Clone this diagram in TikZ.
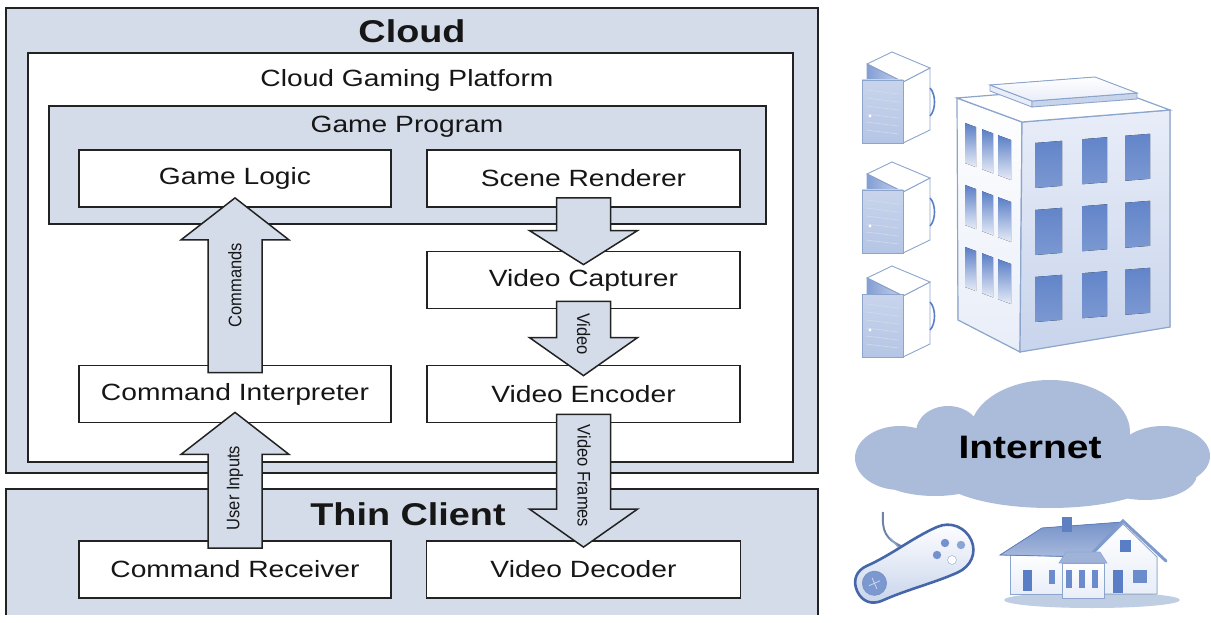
\documentclass[tikz,border=0pt]{standalone}
\usepackage{fontspec}
\usepackage{graphicx}
\setmainfont{Liberation Sans}[FakeStretch=1.2]
\newfontfamily\lblfont{Liberation Sans}
\usetikzlibrary{calc}

\definecolor{panelblue}{RGB}{212,220,234}
\definecolor{edge}{RGB}{34,34,34}
\definecolor{inkgrey}{RGB}{22,22,22}
\definecolor{cloudfill}{RGB}{170,188,218}
\definecolor{winblue}{RGB}{90,126,198}
\definecolor{iconline}{RGB}{140,165,205}
\definecolor{iconpale}{RGB}{232,237,248}
\definecolor{iconmid}{RGB}{200,212,236}
\definecolor{padline}{RGB}{70,102,170}
\definecolor{roofblue}{RGB}{95,128,192}

% block arrow between two points: tail, tip, signed offset of the head base from the tip
\newcommand\fatarrow[3]{%
  \filldraw[fatarrow] let \p1=#1, \p2=#2 in
    (\x1-27pt,\y1) -- (\x1-27pt,{\y2+(#3pt)}) -- (\x1-54pt,{\y2+(#3pt)}) -- (\x2,\y2)
    -- (\x1+54pt,{\y2+(#3pt)}) -- (\x1+27pt,{\y2+(#3pt)}) -- (\x1+27pt,\y1) -- cycle;}

% one server tower, placed by its top corner
\newcommand\serverunit[2]{%
  \begin{scope}[shift={(#1,#2)}]
    \filldraw[draw=iconline, line width=0.9pt, fill=white] (11,30) -- (38,16) -- (38,78) -- (11,91) -- cycle;
    \filldraw[draw=iconline, line width=0.9pt, fill=white] (0,0) -- (-25,12) -- (11,30) -- (38,16) -- cycle;
    \filldraw[draw=iconline, line width=0.9pt, left color=winblue!75, right color=winblue!35] (-25,12) -- (11,30) -- (11,91) -- (-25,76) -- cycle;
    \filldraw[draw=iconline, line width=0.9pt, top color=iconmid, bottom color=winblue!45] (-30,28) rectangle (11,91);
    \foreach \s in {0,...,5} \draw[white!60!iconline, line width=0.6pt] (-26,38+8*\s) -- (7,42+8*\s);
    \fill[white] (-22,64) circle (1.6);
    \draw[winblue, line width=1.6pt] (38,36) .. controls (44,42) and (44,58) .. (38,64);
  \end{scope}}

\begin{document}
\begin{tikzpicture}[x=1pt,y=-1pt,
  panel/.style={draw=edge, line width=2.4pt, fill=panelblue},
  innerwhite/.style={draw=edge, line width=2pt, fill=white},
  stagebox/.style={draw=edge, line width=1.8pt, fill=white, inner sep=0pt,
    minimum height=57pt, text=inkgrey,
    font=\fontsize{23.5}{26}\selectfont},
  titletext/.style={text=inkgrey, inner sep=0pt, font=\fontsize{31.5}{34}\selectfont\bfseries},
  subtitle/.style={text=inkgrey, inner sep=0pt, font=\fontsize{23.5}{26}\selectfont},
  fatarrow/.style={draw=edge, line width=1.5pt, fill=panelblue, line join=miter},
  flowlabel/.style={text=inkgrey, inner sep=0pt, font=\lblfont\fontsize{16.5}{18}\selectfont},
  winleft/.style={top color=winblue, bottom color=winblue!15},
  winright/.style={top color=winblue!95, bottom color=winblue!80},
]
\useasboundingbox (0,0) rectangle (1211,623);
\fill[white] (0,0) rectangle (1211,623);

% ---------- cloud tier ----------
\filldraw[panel] (6,8) rectangle (818,473);
\filldraw[innerwhite] (28,53) rectangle (793,462);
\filldraw[innerwhite, fill=panelblue] (49,106) rectangle (766,224);

% ---------- thin client tier ----------
\fill[panelblue] (6,489) rectangle (818,615);
\draw[draw=edge, line width=2.4pt] (6,615) -- (6,489) -- (818,489) -- (818,615);

\node[titletext] (cloudtitle) at (412,31) {Cloud};
\node[subtitle] (platformtitle) at (407,80) {Cloud Gaming Platform};
\node[subtitle] (programtitle) at (407,127) {Game Program};
\node[titletext] (thintitle) at (408,514) {Thin Client};

% ---------- stages ----------
\node[stagebox, minimum width=312pt] (logic) at (235,178.5) {Game Logic};
\node[stagebox, minimum width=313pt] (renderer) at (583.5,178.5) {Scene Renderer};
\node[stagebox, minimum width=313pt] (capturer) at (583.5,280) {Video Capturer};
\node[stagebox, minimum width=313pt] (encoder) at (583.5,394) {Video Encoder};
\node[stagebox, minimum width=312pt] (interp) at (235,394) {Command Interpreter};
\node[stagebox, minimum width=312pt] (receiver) at (235,569.5) {Command Receiver};
\node[stagebox, minimum width=314pt] (decoder) at (583.5,569.5) {Video Decoder};

% ---------- data flow ----------
\fatarrow{($(interp.north)+(0,8)$)}{($(logic.south)+(0,-10)$)}{-42}
\fatarrow{($(receiver.north)+(0,8)$)}{($(interp.south)+(0,-11)$)}{-42}
\fatarrow{($(renderer.south)+(0,-10)$)}{($(capturer.north)+(0,14)$)}{34}
\fatarrow{($(capturer.south)+(0,-8)$)}{($(encoder.north)+(0,11)$)}{38}
\fatarrow{($(encoder.south)+(0,-9)$)}{($(decoder.north)+(0,7)$)}{38}

\node[flowlabel, rotate=90] (cmdlabel) at (235,285) {\scalebox{1}[1.1]{Commands}};
\node[flowlabel, rotate=90] (inputlabel) at (235,488) {\scalebox{1}[1.1]{User Inputs}};
\node[flowlabel, rotate=-90] (videolabel) at (583.5,334) {\scalebox{1}[1.1]{Video}};
\node[flowlabel, rotate=-90] (framelabel) at (584,476) {\scalebox{1}[1.1]{Video Frames}};

% ---------- servers ----------
\serverunit{892}{52}
\serverunit{892}{162}
\serverunit{892}{266}

% ---------- office building ----------
% left face
\filldraw[draw=iconline, line width=1.2pt, top color=white, bottom color=iconpale]
  (957,98) -- (1022,122) -- (1020,352) -- (958,320) -- cycle;
% right face
\filldraw[draw=iconline, line width=1.2pt, top color=iconpale, bottom color=iconmid]
  (1022,122) -- (1170,110) -- (1170,327) -- (1020,352) -- cycle;
% roof
\filldraw[draw=iconline, line width=1.2pt, fill=white]
  (957,98) -- (1022,122) -- (1170,110) -- (1105,86) -- cycle;
% roof slab
\filldraw[draw=iconline, line width=0.9pt, fill=iconpale]
  (990,85) -- (1032,101) -- (1032,107) -- (990,91) -- cycle;
\filldraw[draw=iconline, line width=0.9pt, fill=iconmid]
  (1032,101) -- (1137,93) -- (1137,99) -- (1032,107) -- cycle;
\filldraw[draw=iconline, line width=0.9pt, top color=white, bottom color=iconpale]
  (990,85) -- (1032,101) -- (1137,93) -- (1095,77) -- cycle;
% left face windows
\foreach \c/\xa/\xb in {0/965/976, 1/982/993, 2/998/1011} {
  \foreach \r in {0,1,2} {
    \fill[winleft]
      (\xa,{123+0.37*(\xa-965)+62*\r}) -- (\xb,{123+0.37*(\xb-965)+62*\r})
      -- (\xb,{163+0.37*(\xb-965)+62*\r}) -- (\xa,{163+0.37*(\xa-965)+62*\r}) -- cycle;
  }
}
% right face windows
\foreach \xa/\xb in {1035/1062, 1082/1107, 1125/1150} {
  \foreach \r in {0,1,2} {
    \fill[winright]
      (\xa,{143-0.08*(\xa-1035)+67*\r}) -- (\xb,{143-0.08*(\xb-1035)+67*\r})
      -- (\xb,{188-0.08*(\xb-1035)+67*\r}) -- (\xa,{188-0.08*(\xa-1035)+67*\r}) -- cycle;
  }
}

% ---------- internet cloud ----------
\fill[cloudfill]
  (1050,432) ellipse [x radius=80, y radius=52]
  (948,432) ellipse [x radius=32, y radius=26]
  (900,458) ellipse [x radius=45, y radius=32]
  (1163,456) ellipse [x radius=47, y radius=30]
  (1050,474) ellipse [x radius=112, y radius=34]
  (935,472) ellipse [x radius=60, y radius=24]
  (1145,474) ellipse [x radius=52, y radius=26];
\node[text=black, inner sep=0pt, font=\fontsize{32.5}{35}\selectfont\bfseries] (internet) at (1030,447) {Internet};

% ---------- gamepad ----------
\draw[iconline!80!black, line width=2pt] (883,512) .. controls (882,530) and (884,540) .. (906,548);
\draw[iconline, line width=1.4pt] (890,538) -- (903,552);
\begin{scope}[shift={(911,567)}, rotate=24]
  \filldraw[draw=padline, line width=2.6pt, top color=white, bottom color=iconmid]
    (-59,0) .. controls (-59,-12) and (-51,-19) .. (-40,-19)
    .. controls (-12,-19) and (12,-26) .. (40,-26)
    .. controls (55,-26) and (66,-14) .. (66,0)
    .. controls (66,14) and (55,24) .. (40,24)
    .. controls (14,24) and (-12,19) .. (-40,19)
    .. controls (-51,19) and (-59,12) .. (-59,0) -- cycle;
  \filldraw[draw=padline!70, line width=1pt, fill=winblue!80] (-40,0) circle (12);
  \draw[white!70!winblue, line width=0.8pt] (-46,0) -- (-34,0) (-40,-6) -- (-40,6);
\end{scope}
\fill[winblue!85] (945,543) circle (4.2);
\fill[winblue!70] (961,545) circle (4.2);
\fill[winblue!85] (937,555) circle (4.2);
\filldraw[draw=iconline, fill=white] (952,560) circle (4.4);

% ---------- house ----------
\fill[iconline!55] (1092,600) ellipse [x radius=88, y radius=8];
\filldraw[draw=iconline, line width=0.8pt, top color=white, bottom color=iconpale] (1010,553) rectangle (1090,594);
\filldraw[draw=roofblue, line width=0.8pt, top color=roofblue!85, bottom color=roofblue!55]
  (1000,555) -- (1042,528) -- (1123,522) -- (1090,557) -- cycle;
\filldraw[draw=iconline, line width=0.8pt, top color=white, bottom color=iconpale]
  (1090,557) -- (1123,524) -- (1157,557) -- (1157,594) -- (1090,594) -- cycle;
\draw[roofblue!80, line width=3pt, line cap=round] (1086,560) -- (1123,521) -- (1166,561);
\fill[roofblue] (1062,517) rectangle (1072,532);
\fill[winblue] (1120,540) rectangle (1131,552);
\filldraw[draw=roofblue!70, fill=roofblue!60, line width=0.6pt] (1059,563) -- (1066,552) -- (1100,552) -- (1107,563) -- cycle;
\filldraw[draw=iconline, line width=0.8pt, top color=white, bottom color=iconpale] (1062,563) rectangle (1104,598);
\foreach \xa in {1066,1079,1092} \fill[winblue!90] (\xa,570) rectangle ++(6,18);
\fill[winblue!90] (1049,570) rectangle (1055,584);
\fill[winblue] (1023,570) rectangle (1032,591);
\fill[winblue] (1113,570) rectangle (1123,593);
\fill[winblue!90] (1133,570) rectangle (1147,583);
\end{tikzpicture}
\end{document}
